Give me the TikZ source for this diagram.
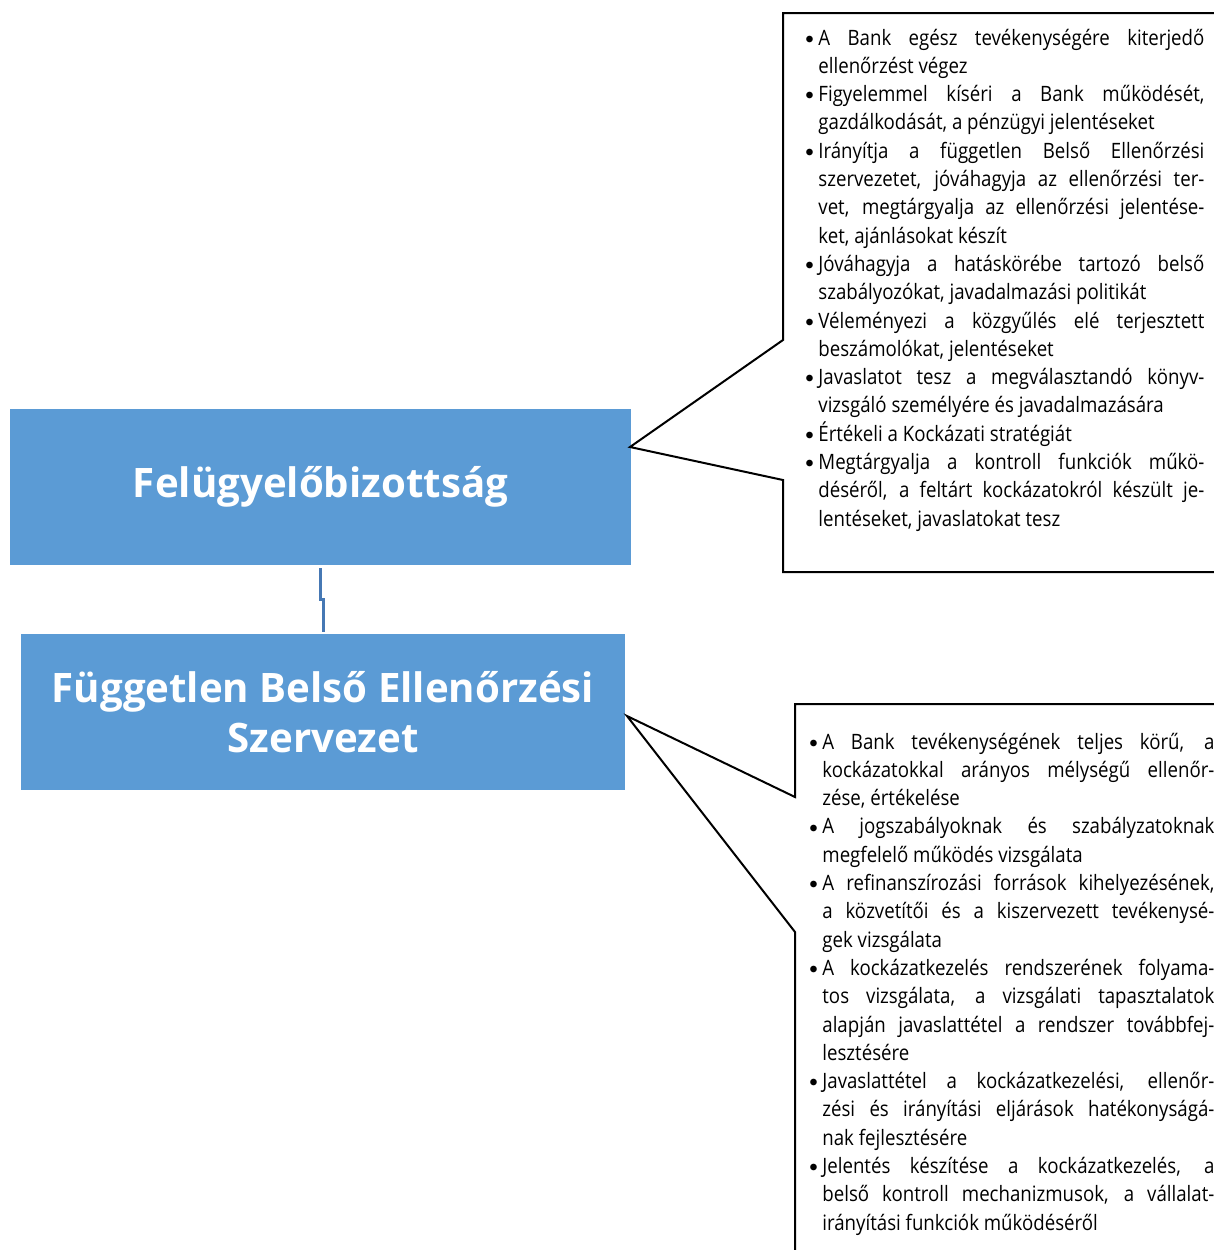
\documentclass[tikz,border=0pt]{standalone}
\usepackage{fontspec}
\setmainfont{Open Sans}[FakeStretch=0.88,BoldFeatures={FakeStretch=0.99}]
\usetikzlibrary{positioning}
\definecolor{boxblue}{RGB}{91,155,213}
\definecolor{linkblue}{RGB}{70,120,180}
\hyphenpenalty=10000
\exhyphenpenalty=10000
\hbadness=10000
\newcommand\pont[1]{\hangindent=6.5pt\hangafter=1\noindent
  \hbox to 6.5pt{\raisebox{0.9pt}{\fontsize{8}{8}\selectfont$\bullet$}\hfil}#1\par}

\tikzset{
  title box/.style={fill=boxblue, text=white, inner sep=0pt, align=center,
    font=\bfseries\fontsize{20.3}{25}\selectfont},
  callout/.style={draw=black, line width=1pt, line join=miter},
  list text/.style={anchor=base west, inner sep=0pt, align=justify,
    font=\fontsize{10.6}{14.15}\selectfont},
}

\begin{document}
\begin{tikzpicture}[x=0.5pt,y=-0.5pt]
    \path[use as bounding box, clip] (0,0) rectangle (1214,1250);
    % the two blue boxes
    \node[title box, minimum width=310.5pt, minimum height=78pt] (felugy) at (320.5,487) {Felügyelőbizottság};
    \node[title box, minimum width=302pt, minimum height=78pt] (fbesz) at (323,712) {Független Belső Ellenőrzési\\Szervezet};
    \draw[linkblue, line width=1.5pt, shorten <=1.5pt, shorten >=1pt] (felugy.south) -- ++(0,34) -| (fbesz.north);
    % callouts
    \coordinate (tip1) at (630,447);
    \coordinate (tip2) at (627,716);
    \draw[callout] (783,13) -- (1230,13) -- (1230,572) -- (783,572) -- (783,480) -- (tip1) -- (783,340) -- cycle;
    \draw[callout] (795,704) -- (1230,704) -- (1230,1260) -- (795,1260) -- (795,932) -- (tip2) -- (795,797) -- cycle;
    \node[list text, text width=199.5pt] (lista1) at (805,45) {%
      \pont{A Bank egész tevékenységére kiterjedő\linebreak ellenőrzést végez}%
      \pont{Figyelemmel kíséri a Bank működését,\linebreak gazdálkodását, a pénzügyi jelentéseket}%
      \pont{Irányítja a független Belső Ellenőrzési\linebreak szervezetet, jóváhagyja az ellenőrzési ter-\linebreak vet, megtárgyalja az ellenőrzési jelentése-\linebreak ket, ajánlásokat készít}%
      \pont{Jóváhagyja a hatáskörébe tartozó belső\linebreak szabályozókat, javadalmazási politikát}%
      \pont{Véleményezi a közgyűlés elé terjesztett\linebreak beszámolókat, jelentéseket}%
      \pont{Javaslatot tesz a megválasztandó könyv-\linebreak vizsgáló személyére és javadalmazására}%
      \pont{Értékeli a Kockázati stratégiát}%
      \pont{Megtárgyalja a kontroll funkciók műkö-\linebreak déséről, a feltárt kockázatokról készült je-\linebreak lentéseket, javaslatokat tesz}};
    \node[list text, text width=202.5pt] (lista2) at (809,749) {%
      \pont{A Bank tevékenységének teljes körű, a\linebreak kockázatokkal arányos mélységű ellenőr-\linebreak zése, értékelése}%
      \pont{A jogszabályoknak és szabályzatoknak\linebreak megfelelő működés vizsgálata}%
      \pont{A refinanszírozási források kihelyezésének,\linebreak a közvetítői és a kiszervezett tevékenysé-\linebreak gek vizsgálata}%
      \pont{A kockázatkezelés rendszerének folyama-\linebreak tos vizsgálata, a vizsgálati tapasztalatok\linebreak alapján javaslattétel a rendszer továbbfej-\linebreak lesztésére}%
      \pont{Javaslattétel a kockázatkezelési, ellenőr-\linebreak zési és irányítási eljárások hatékonyságá-\linebreak nak fejlesztésére}%
      \pont{Jelentés készítése a kockázatkezelés, a\linebreak belső kontroll mechanizmusok, a vállalat-\linebreak irányítási funkciók működéséről}};
\end{tikzpicture}
\end{document}
